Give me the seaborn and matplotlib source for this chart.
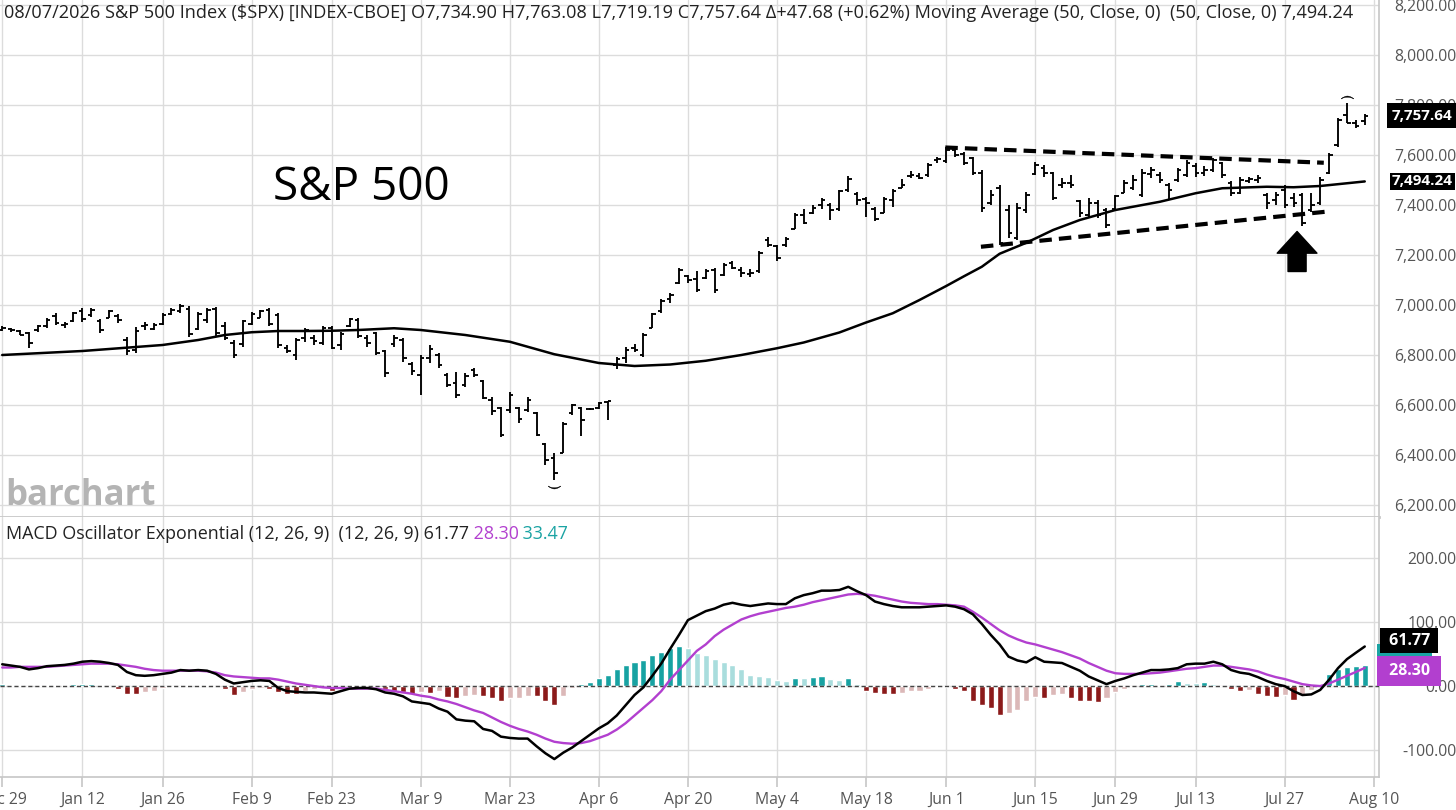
import matplotlib
matplotlib.use("Agg")
import numpy as np
import pandas as pd
import seaborn as sns
import matplotlib.pyplot as plt
from matplotlib.transforms import blended_transform_factory

# ---------------- data ----------------
holidays = ["2026-01-01", "2026-01-19", "2026-02-16", "2026-05-25", "2026-06-19", "2026-07-03"]
tick_dates = ["2025-12-29", "2026-01-12", "2026-01-26", "2026-02-09", "2026-02-23", "2026-03-09",
              "2026-03-23", "2026-04-06", "2026-04-20", "2026-05-04", "2026-05-18", "2026-06-01",
              "2026-06-15", "2026-06-29", "2026-07-13", "2026-07-27", "2026-08-10"]
tick_labels = ["Dec 29", "Jan 12", "Jan 26", "Feb 9", "Feb 23", "Mar 9", "Mar 23", "Apr 6", "Apr 20",
               "May 4", "May 18", "Jun 1", "Jun 15", "Jun 29", "Jul 13", "Jul 27", "Aug 10"]

opens = [6900, 6905, 6898, 6890, 6900, 6915, 6955, 6920, 6935, 6975, 6960, 6935, 6950, 6955, 6860, 6820,
         6915, 6905, 6925, 6965, 6975, 6985, 6905, 6940, 6985, 6915, 6850, 6845, 6925, 6950, 6980, 6960,
         6830, 6800, 6870, 6870, 6850, 6910, 6840, 6915, 6940, 6870, 6890, 6815, 6845, 6860, 6765, 6720,
         6790, 6800, 6720, 6690, 6680, 6740, 6695, 6620, 6590, 6580, 6590, 6580, 6570, 6445, 6390, 6410,
         6570, 6590, 6585, 6590, 6612, 6760, 6790, 6830, 6800, 6910, 6975, 7025, 7090, 7115, 7105, 7110,
         7140, 7120, 7170, 7140, 7125, 7135, 7260, 7235, 7240, 7305, 7360, 7370, 7400, 7400, 7385, 7460,
         7445, 7425, 7385, 7370, 7420, 7470, 7515, 7515, 7520, 7580, 7575, 7620, 7605, 7590, 7530, 7410,
         7470, 7380, 7270, 7380, 7525, 7550, 7530, 7480, 7490, 7415, 7360, 7410, 7380, 7385, 7450, 7470,
         7440, 7525, 7520, 7480, 7500, 7520, 7555, 7530, 7540, 7570, 7490, 7450, 7495, 7500, 7440, 7420,
         7460, 7430, 7440, 7380, 7410, 7530, 7640, 7760, 7730, 7734.90]
highs = [6915, 6910, 6900, 6893, 6920, 6947, 6967, 6933, 6973, 6987, 6987, 6943, 6980, 6964, 6873, 6913,
         6933, 6927, 6967, 6987, 7004, 6995, 6973, 6987, 6993, 6933, 6860, 6940, 6973, 6980, 6987, 6967,
         6840, 6867, 6907, 6880, 6916, 6916, 6893, 6950, 6947, 6880, 6893, 6820, 6880, 6867, 6773, 6800,
         6840, 6807, 6727, 6733, 6727, 6747, 6700, 6633, 6593, 6653, 6593, 6631, 6573, 6449, 6407, 6533,
         6604, 6593, 6590, 6613, 6617, 6793, 6833, 6844, 6887, 6969, 7023, 7049, 7147, 7120, 7137, 7143,
         7147, 7167, 7177, 7153, 7143, 7217, 7271, 7240, 7271, 7369, 7383, 7400, 7427, 7407, 7460, 7516,
         7453, 7431, 7393, 7433, 7463, 7503, 7537, 7529, 7567, 7593, 7631, 7627, 7613, 7593, 7540, 7460,
         7480, 7400, 7407, 7453, 7573, 7560, 7533, 7507, 7520, 7420, 7427, 7420, 7387, 7440, 7500, 7520,
         7543, 7551, 7533, 7487, 7547, 7580, 7567, 7556, 7587, 7573, 7497, 7511, 7513, 7520, 7447, 7453,
         7480, 7447, 7447, 7447, 7511, 7609, 7747, 7810, 7740, 7763.08]
lows = [6895, 6893, 6880, 6827, 6893, 6910, 6920, 6907, 6933, 6933, 6953, 6887, 6947, 6927, 6800, 6807,
        6900, 6900, 6920, 6960, 6967, 6873, 6900, 6927, 6873, 6860, 6787, 6833, 6920, 6947, 6916, 6827,
        6807, 6780, 6853, 6840, 6840, 6823, 6820, 6913, 6867, 6833, 6800, 6713, 6833, 6773, 6720, 6640,
        6767, 6747, 6673, 6627, 6673, 6713, 6623, 6560, 6473, 6567, 6527, 6573, 6476, 6360, 6300, 6407,
        6560, 6476, 6580, 6583, 6540, 6743, 6769, 6813, 6793, 6907, 6969, 7007, 7084, 7087, 7053, 7103,
        7049, 7116, 7143, 7113, 7111, 7129, 7231, 7177, 7233, 7303, 7324, 7364, 7383, 7340, 7377, 7453,
        7400, 7353, 7337, 7367, 7393, 7467, 7507, 7503, 7513, 7567, 7567, 7593, 7560, 7520, 7373, 7400,
        7240, 7267, 7260, 7367, 7520, 7513, 7420, 7467, 7467, 7353, 7353, 7347, 7307, 7380, 7447, 7460,
        7433, 7507, 7487, 7420, 7493, 7511, 7513, 7516, 7533, 7507, 7436, 7444, 7487, 7489, 7383, 7400,
        7387, 7391, 7316, 7373, 7400, 7524, 7631, 7727, 7707, 7719.19]
closes = [6908, 6900, 6882, 6850, 6918, 6940, 6930, 6925, 6968, 6945, 6980, 6900, 6975, 6940, 6815, 6895,
          6920, 6920, 6960, 6980, 6995, 6885, 6965, 6980, 6890, 6870, 6800, 6935, 6965, 6975, 6925, 6840,
          6815, 6860, 6900, 6855, 6910, 6830, 6885, 6945, 6875, 6850, 6810, 6730, 6870, 6790, 6735, 6790,
          6825, 6760, 6680, 6640, 6715, 6720, 6630, 6575, 6480, 6640, 6545, 6620, 6480, 6380, 6330, 6525,
          6600, 6540, 6585, 6610, 6615, 6785, 6820, 6820, 6880, 6965, 7015, 7040, 7140, 7100, 7060, 7135,
          7060, 7160, 7150, 7130, 7130, 7210, 7240, 7190, 7265, 7360, 7330, 7390, 7420, 7380, 7455, 7505,
          7420, 7410, 7345, 7425, 7455, 7480, 7520, 7510, 7560, 7585, 7620, 7600, 7570, 7530, 7390, 7440,
          7250, 7290, 7390, 7440, 7560, 7530, 7430, 7490, 7480, 7370, 7410, 7360, 7320, 7435, 7490, 7500,
          7530, 7540, 7500, 7460, 7540, 7570, 7530, 7540, 7580, 7520, 7450, 7500, 7505, 7510, 7410, 7440,
          7400, 7410, 7330, 7400, 7500, 7600, 7740, 7730, 7715, 7757.64]

ma_idx = [0, 9, 18, 22, 25, 28, 31, 34, 37, 40, 44, 47, 52, 57, 62, 67, 71, 75, 79, 83, 87, 90, 94, 97,
          100, 103, 106, 108, 110, 112, 115, 118, 121, 125, 130, 134, 137, 142, 145, 148, 153]
ma_val = [6800, 6816, 6840, 6860, 6880, 6891, 6896, 6896, 6897, 6900, 6907, 6900, 6880, 6853, 6803, 6768,
          6756, 6762, 6777, 6800, 6827, 6850, 6890, 6930, 6967, 7020, 7076, 7115, 7153, 7205, 7249, 7300,
          7340, 7380, 7413, 7447, 7467, 7473, 7471, 7476, 7494.24]

macd = [34, 32, 30, 26, 28, 31, 32, 33, 35, 38, 39, 38, 36, 33, 22, 17, 16, 17, 19, 21, 25, 24, 25, 24,
        19, 10, 4, 6, 8, 9, 8, -3, -8, -9, -10, -10, -11, -12, -8, -4, -3, -3, -5, -10, -12, -16, -24, -26,
        -28, -35, -40, -52, -54, -55, -67, -70, -79, -81, -82, -82, -94, -105, -114, -104, -96, -86, -76,
        -66, -58, -46, -30, -14, -2, 16, 35, 58, 80, 103, 110, 117, 121, 127, 130, 127, 125, 127, 129,
        128, 128, 137, 142, 145, 149, 149, 150, 155, 148, 142, 132, 128, 125, 123, 123, 123, 124, 125,
        126, 124, 120, 112, 97, 80, 65, 46, 40, 37, 45, 38, 37, 36, 30, 24, 15, 9, 3, 8, 12, 17, 21, 25,
        25, 26, 28, 34, 35, 35, 38, 34, 25, 21, 19, 14, 8, 3, 0, -8, -14, -13, -6, 10, 28, 42, 52, 61.77]
signal = [29, 29, 30, 30, 30, 30, 31, 32, 33, 34, 35, 35, 35, 34, 32, 30, 27, 25, 24, 24, 24, 24, 24, 23,
          21, 17, 15, 14, 13, 12, 12, 10, 7, 4, 2, 0, -2, -3, -3, -4, -4, -4, -4, -6, -8, -10, -12, -15,
          -17, -21, -24, -28, -33, -38, -42, -49, -56, -62, -67, -71, -76, -82, -87, -89, -90, -89, -86,
          -81, -76, -68, -58, -46, -34, -22, -8, 10, 25, 40, 55, 65, 78, 88, 96, 104, 109, 113, 116, 119,
          122, 124, 127, 131, 134, 137, 140, 143, 144, 143, 141, 138, 135, 132, 130, 129, 128, 128, 127,
          126, 124, 116, 107, 97, 87, 79, 73, 68, 65, 61, 57, 53, 48, 43, 36, 30, 24, 20, 19, 19, 19, 20,
          21, 23, 25, 27, 28, 30, 32, 32, 30, 28, 26, 23, 18, 14, 11, 7, 3, 1, 0, 4, 10, 16, 22, 28.30]
hist = [3, 2, 1, 0.5, 1, 2, 1, 2, 3, 4, 4, 2, 0.5, -4, -12, -12, -10, -7, -3, -1, 0.5, 1, 2, 1, 0.5, -4,
        -14, -10, -5, -3, -4, -9, -12, -13, -7, -5, -3, -7, -3, 1, 2, 1, 0.5, -5, -8, -10, -12, -10, -11,
        -8, -17, -18, -15, -14, -16, -19, -23, -19, -18, -15, -16, -24, -29, -15, -3, 3, 6, 13, 18, 27, 33,
        37, 40, 48, 53, 60, 62, 60, 52, 48, 42, 37, 33, 26, 17, 16, 14, 9, 8, 13, 12, 14, 15, 11, 10, 12,
        4, -8, -11, -12, -13, -11, -8, -7, -4, -2, -1, -5, -8, -23, -29, -35, -45, -42, -37, -24, -17, -19,
        -14, -13, -19, -23, -24, -25, -18, -9, -5, -1, 3, 4, 2, 4, 8, 5, 4.5, 6, 3, 0.5, -4, -7, -6, -13,
        -16, -17, -14, -21, -14, -6, 1, 19, 26, 29, 31, 33.47]

upper_trend_idx = [105.9, 148.4]
upper_trend_val = [7630, 7569]
lower_trend_idx = [109.9, 148.6]
lower_trend_val = [7233, 7373]
arrow_idx = 145.4
arrow_tip, arrow_base = 7294, 7134

price_ticks = [6200, 6400, 6600, 6800, 7000, 7200, 7400, 7600, 7800, 8000, 8200]
macd_ticks = [-100, 0, 100, 200]

# ---------------- calendar ----------------
cal = pd.bdate_range("2025-12-29", "2026-08-10")
cal = cal[~cal.isin(pd.to_datetime(holidays))]
pos = {d: k for k, d in enumerate(cal)}
tick_pos = [pos[pd.Timestamp(d)] for d in tick_dates]

n = len(closes)
df = pd.DataFrame({"i": np.arange(n), "open": opens, "high": highs, "low": lows, "close": closes,
                   "macd": macd, "signal": signal, "hist": hist})

# ---------------- style ----------------
sns.set_theme(style="white")
plt.rcParams["font.family"] = ["Open Sans", "DejaVu Sans"]

W, H = 1456, 810
fig = plt.figure(figsize=(W / 100, H / 100), dpi=100)
right_px = 1379
ax = fig.add_axes([0, (H - 517) / H, right_px / W, 517 / H])
ax2 = fig.add_axes([0, (H - 777) / H, right_px / W, 260 / H], sharex=ax)

grid_c = "#dcdcdc"
lab_c = "#555555"
xmin, xmax = -0.25, 154.6

for a in (ax, ax2):
    a.set_xlim(xmin, xmax)
    a.set_xticks(tick_pos)
    a.grid(True, color=grid_c, lw=1)
    a.set_axisbelow(True)
    for s in ("left", "top"):
        a.spines[s].set_visible(False)
    a.spines["right"].set_color("#c8c8c8")
    a.spines["bottom"].set_color("#c8c8c8")
    a.yaxis.tick_right()
    a.tick_params(axis="y", which="both", left=False, right=False, labelleft=False, labelright=True,
                  pad=50, labelsize=11.3, labelcolor=lab_c)

ax.spines["bottom"].set_linewidth(2)
ax.tick_params(axis="x", bottom=False, labelbottom=False)
ax2.tick_params(axis="x", bottom=True, length=7, color="#c8c8c8", labelsize=11.3, labelcolor=lab_c, pad=4)
ax2.set_xticklabels(tick_labels)

# price panel
ax.set_ylim(6152, 8220)
ax.set_yticks(price_ticks)
ax.set_yticklabels([f"{v:,.2f}" for v in price_ticks])
for t in ax.get_yticklabels():
    t.set_horizontalalignment("right")

blw = 1.35
ax.vlines(df["i"], df["low"], df["high"], color="black", lw=blw)
ax.hlines(df["open"], df["i"] - 0.4, df["i"], color="black", lw=blw)
ax.hlines(df["close"], df["i"], df["i"] + 0.4, color="black", lw=blw)

# highest-high / lowest-low markers
hi_i = int(np.argmax(highs))
lo_i = int(np.argmin(lows))
ax.plot([hi_i], [highs[hi_i] + 22], marker="$\\frown$", ms=9, color="black", mew=0.3)
ax.plot([lo_i], [lows[lo_i] - 26], marker="$\\smile$", ms=9, color="black", mew=0.3)

sns.lineplot(x=ma_idx, y=ma_val, ax=ax, color="black", lw=1.8)

ax.plot(upper_trend_idx, upper_trend_val, color="black", lw=3, ls=(0, (3, 1.7)), solid_capstyle="butt")
ax.plot(lower_trend_idx, lower_trend_val, color="black", lw=3, ls=(0, (3, 1.7)), solid_capstyle="butt")

ax.annotate("", xy=(arrow_idx, arrow_tip), xytext=(arrow_idx, arrow_base),
            arrowprops=dict(arrowstyle="simple,head_length=0.6,head_width=1.1,tail_width=0.5",
                            mutation_scale=26, fc="black", ec="black", shrinkA=0, shrinkB=0))

ax.text(0.262, 0.636, "S&P 500", transform=ax.transAxes, fontsize=33, ha="center", va="center",
        color="black")
ax.text(0.004, 0.024, "barchart", transform=ax.transAxes, fontsize=25, fontweight="bold",
        color="#b4b4b4", ha="left", va="baseline")

# right-side tags
bt = blended_transform_factory(ax.transAxes, ax.transData)
tag_kw = dict(color="white", fontweight="bold", fontsize=11, va="center", ha="left", zorder=10,
              clip_on=False)
ax.text(1.0095, closes[-1], f"{closes[-1]:,.2f}", transform=bt,
        bbox=dict(boxstyle="square,pad=0.35", fc="black", ec="none"), **tag_kw)
ax.text(1.0095, ma_val[-1], f"{ma_val[-1]:,.2f}", transform=bt,
        bbox=dict(boxstyle="square,pad=0.12", fc="black", ec="none"), **tag_kw)

# header
fig.text(4 / W, 1 - 13 / H,
         "08/07/2026 S&P 500 Index ($SPX) [INDEX-CBOE] O7,734.90 H7,763.08 L7,719.19 C7,757.64 "
         "\u0394+47.68 (+0.62%) Moving Average (50, Close, 0)  (50, Close, 0) 7,494.24",
         fontsize=13.1, color="#222222", ha="left", va="center")

# MACD panel
ax2.set_ylim(-142, 264)
ax2.set_yticks(macd_ticks)
ax2.set_yticklabels([f"{v:,.2f}" for v in macd_ticks])
for t in ax2.get_yticklabels():
    t.set_horizontalalignment("right")

teal_d, teal_l, red_d, red_l = "#17a2a2", "#a9dddd", "#8b1a1a", "#dbb8b8"
cols = []
prev = 0.0
for v in hist:
    if v >= 0:
        cols.append(teal_d if v >= prev else teal_l)
    else:
        cols.append(red_d if v <= prev else red_l)
    prev = v
ax2.bar(df["i"], df["hist"], width=0.68, color=cols, zorder=2)
ax2.axhline(0, color="#444444", lw=1, ls=(0, (3, 2)), zorder=3)
sns.lineplot(data=df, x="i", y="signal", ax=ax2, color="#b23fcf", lw=1.7, zorder=4)
sns.lineplot(data=df, x="i", y="macd", ax=ax2, color="black", lw=1.8, zorder=5)
ax2.set_xlabel("")
ax2.set_ylabel("")
ax.set_xlabel("")
ax.set_ylabel("")

bt2 = blended_transform_factory(ax2.transAxes, ax2.transData)
mtag = dict(color="white", fontweight="bold", fontsize=11.5, va="center", ha="left", zorder=10,
            clip_on=False)
ax2.text(1.004, 42, "00.00", transform=bt2, color="#1aa3a3", fontsize=11.5, va="center", ha="left",
         bbox=dict(boxstyle="square,pad=0.45", fc="#1aa3a3", ec="none"), zorder=8, clip_on=False)
ax2.text(1.004, macd[-1] + 9, f" {macd[-1]:.2f} ", transform=bt2,
         bbox=dict(boxstyle="square,pad=0.28", fc="black", ec="none"), **mtag)
ax2.text(1.004, signal[-1] - 5, f" {signal[-1]:.2f} ", transform=bt2,
         bbox=dict(boxstyle="square,pad=0.45", fc="#b23fcf", ec="none"), **mtag)

# MACD legend text with coloured values
t1 = ax2.text(0.004, 0.9, "MACD Oscillator Exponential (12, 26, 9)  (12, 26, 9) 61.77",
              transform=ax2.transAxes, fontsize=12.9, color="#222222", ha="left", va="bottom")
t2 = ax2.annotate(" 28.30", xy=(1, 0), xycoords=t1, fontsize=12.9, color="#b23fcf", ha="left",
                  va="bottom")
ax2.annotate(" 33.47", xy=(1, 0), xycoords=t2, fontsize=12.9, color="#1aa3a3", ha="left", va="bottom")

fig.savefig("out.png", dpi=100)
